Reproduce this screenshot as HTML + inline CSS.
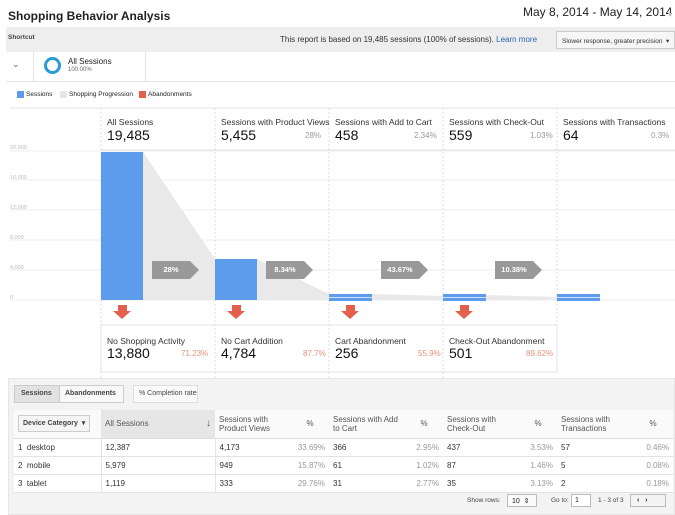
<!DOCTYPE html>
<html><head><style>
*{margin:0;padding:0;box-sizing:border-box}
body{width:675px;height:515px;background:#fff;font-family:"Liberation Sans",sans-serif;color:#222;position:relative;overflow:hidden}
.a{position:absolute;white-space:nowrap}
.s{font-size:8px;color:#333}
.g{color:#999}
.o{color:#e8907a}
.hl{font-size:8.5px;color:#333}
.num{font-size:14px;color:#111}
.tag{position:absolute;width:48px;height:18px}
.tag div{position:absolute;left:0;top:0;width:38px;height:18px;background:#999;color:#fff;font-size:7.5px;font-weight:bold;text-align:center;line-height:18px}
.tag span{position:absolute;left:38px;top:0;border-left:9px solid #999;border-top:9px solid transparent;border-bottom:9px solid transparent}
.ra{position:absolute;width:19px;height:14px}
.ra div{position:absolute;left:5px;top:0;width:9px;height:6px;background:#e3604e}
.ra span{position:absolute;left:0;top:6px;border-top:8px solid #e3604e;border-left:9.5px solid transparent;border-right:9.5px solid transparent}
table{white-space:normal}
td{font-size:8px;color:#333;border-bottom:1px solid #e3e3e3;padding:0 4px;height:18px;white-space:nowrap}
th{font-size:8px;color:#555;font-weight:normal;text-align:left;padding:0 4px;height:28px;border-bottom:1px solid #ddd;white-space:normal;line-height:9px}
</style></head><body>
<div class="a" style="left:8px;top:9px;font-size:12px;font-weight:bold">Shopping Behavior Analysis</div>
<div class="a" style="left:523px;top:5px;font-size:12px;color:#222">May 8, 2014 - May 14, 2014</div>
<div class="a" style="left:668px;top:10px;font-size:8px;color:#bbb">▾</div>
<div class="a" style="left:6px;top:27px;width:669px;height:25px;background:#eeeeee"></div>
<div class="a" style="left:8px;top:34px;font-size:6.5px;font-weight:bold;color:#444">Shortcut</div>
<div class="a" style="left:280px;top:35px;font-size:8px;color:#333">This report is based on 19,485 sessions (100% of sessions). <span style="color:#2a63b3">Learn more</span></div>
<div class="a" style="left:556px;top:31px;width:119px;height:18px;background:#f6f6f6;border:1px solid #ccc;font-size:6.5px;color:#333;padding:5px 0 0 5px">Slower response, greater precision &nbsp;▾</div>
<div class="a" style="left:6px;top:52px;width:669px;height:30px;border-bottom:1px solid #e5e5e5"></div>
<div class="a" style="left:33px;top:52px;width:113px;height:30px;border-left:1px solid #e5e5e5;border-right:1px solid #e5e5e5"></div>
<div class="a" style="left:12px;top:59px;font-size:9px;color:#666">⌄</div>
<div class="a" style="left:44px;top:57px;width:17px;height:17px;border-radius:50%;border:3px solid #2b9ad6"></div>
<div class="a" style="left:68px;top:57px;font-size:8px;color:#222">All Sessions</div>
<div class="a" style="left:68px;top:67px;font-size:6px;color:#666">100.00%</div>
<div class="a" style="left:17px;top:91px;width:7px;height:7px;background:#5d9cec"></div>
<div class="a" style="left:26px;top:91px;font-size:6.5px">Sessions</div>
<div class="a" style="left:60px;top:91px;width:7px;height:7px;background:#e6e6e6"></div>
<div class="a" style="left:69px;top:91px;font-size:6.5px">Shopping Progression</div>
<div class="a" style="left:139px;top:91px;width:7px;height:7px;background:#e3604e"></div>
<div class="a" style="left:148px;top:91px;font-size:6.5px">Abandonments</div>

<svg class="a" style="left:0;top:0" width="675" height="380">
<line x1="10" y1="108" x2="675" y2="108" stroke="#e6e6e6"/>
<g stroke="#ececec"><line x1="10" y1="151" x2="675" y2="151"/><line x1="10" y1="180" x2="675" y2="180"/><line x1="10" y1="210" x2="675" y2="210"/><line x1="10" y1="240" x2="675" y2="240"/><line x1="10" y1="270" x2="675" y2="270"/><line x1="10" y1="300" x2="675" y2="300"/></g>
<g stroke="#ddd" stroke-dasharray="2,2"><line x1="101" y1="108" x2="101" y2="380"/><line x1="215" y1="108" x2="215" y2="380"/><line x1="329" y1="108" x2="329" y2="380"/><line x1="443" y1="108" x2="443" y2="380"/><line x1="557" y1="108" x2="557" y2="325"/></g>
<line x1="101" y1="150" x2="675" y2="150" stroke="#e6e6e6"/>
<polygon points="143,152 215,259 215,300 143,300" fill="#e9e9e9"/>
<polygon points="257,259 329,294 329,300 257,300" fill="#e9e9e9"/>
<polygon points="372,294 443,296 443,300 372,300" fill="#e9e9e9"/>
<polygon points="486,295 557,297 557,300 486,300" fill="#e9e9e9"/>
<rect x="101" y="152" width="42" height="148" fill="#5d9cec"/>
<rect x="215" y="259" width="42" height="41" fill="#5d9cec"/>
<rect x="329" y="294" width="43" height="7" fill="#5d9cec"/>
<rect x="443" y="294" width="43" height="7" fill="#5d9cec"/>
<rect x="557" y="294" width="43" height="7" fill="#5d9cec"/>
<g stroke="#cfe0fa"><line x1="329" y1="297.5" x2="372" y2="297.5"/><line x1="443" y1="297.5" x2="486" y2="297.5"/><line x1="557" y1="297.5" x2="600" y2="297.5"/></g>
<g font-size="5.5" fill="#bbb" font-family="Liberation Sans"><text x="10" y="149">20,000</text><text x="10" y="179">16,000</text><text x="10" y="209">12,000</text><text x="10" y="239">8,000</text><text x="10" y="269">4,000</text><text x="10" y="299">0</text></g>
<rect x="101" y="325" width="456" height="47" fill="none" stroke="#e3e3e3"/>
</svg>

<div class="a hl" style="left:107px;top:117px">All Sessions</div><div class="a num" style="left:107px;top:127px">19,485</div>
<div class="a hl" style="left:221px;top:117px">Sessions with Product Views</div><div class="a num" style="left:221px;top:127px">5,455</div><div class="a s g" style="left:305px;top:131px">28%</div>
<div class="a hl" style="left:335px;top:117px">Sessions with Add to Cart</div><div class="a num" style="left:335px;top:127px">458</div><div class="a s g" style="left:414px;top:131px">2.34%</div>
<div class="a hl" style="left:449px;top:117px">Sessions with Check-Out</div><div class="a num" style="left:449px;top:127px">559</div><div class="a s g" style="left:530px;top:131px">1.03%</div>
<div class="a hl" style="left:563px;top:117px">Sessions with Transactions</div><div class="a num" style="left:563px;top:127px">64</div><div class="a s g" style="left:651px;top:131px">0.3%</div>

<div class="tag" style="left:152px;top:261px"><div>28%</div><span></span></div>
<div class="tag" style="left:266px;top:261px"><div>8.34%</div><span></span></div>
<div class="tag" style="left:381px;top:261px"><div>43.67%</div><span></span></div>
<div class="tag" style="left:495px;top:261px"><div>10.38%</div><span></span></div>
<div class="ra" style="left:113px;top:305px"><div></div><span></span></div>
<div class="ra" style="left:227px;top:305px"><div></div><span></span></div>
<div class="ra" style="left:341px;top:305px"><div></div><span></span></div>
<div class="ra" style="left:455px;top:305px"><div></div><span></span></div>

<div class="a hl" style="left:107px;top:336px">No Shopping Activity</div><div class="a num" style="left:107px;top:345px">13,880</div><div class="a s o" style="left:181px;top:349px">71.23%</div>
<div class="a hl" style="left:221px;top:336px">No Cart Addition</div><div class="a num" style="left:221px;top:345px">4,784</div><div class="a s o" style="left:303px;top:349px">87.7%</div>
<div class="a hl" style="left:335px;top:336px">Cart Abandonment</div><div class="a num" style="left:335px;top:345px">256</div><div class="a s o" style="left:418px;top:349px">55.9%</div>
<div class="a hl" style="left:449px;top:336px">Check-Out Abandonment</div><div class="a num" style="left:449px;top:345px">501</div><div class="a s o" style="left:526px;top:349px">89.62%</div>

<div class="a" style="left:8px;top:378px;width:667px;height:137px;background:#f3f3f3;border:1px solid #e6e6e6"></div>
<div class="a" style="left:14px;top:385px;width:110px;height:18px;border:1px solid #ccc;background:#f8f8f8"></div>
<div class="a" style="left:14px;top:385px;width:46px;height:18px;background:#e2e2e2;border:1px solid #ccc"></div>
<div class="a" style="left:21px;top:390px;font-size:7px;font-weight:bold;color:#444">Sessions</div>
<div class="a" style="left:65px;top:390px;font-size:7px;font-weight:bold;color:#444">Abandonments</div>
<div class="a" style="left:133px;top:385px;width:65px;height:18px;border:1px solid #ddd;background:#fafafa;font-size:7px;color:#444;padding:4px 0 0 5px">% Completion rate</div>
<table class="a" style="left:14px;top:410px;width:659px;border-collapse:collapse;background:#fff;table-layout:fixed;white-space:normal">
<colgroup><col style="width:87px"><col style="width:114px"><col style="width:76px"><col style="width:38px"><col style="width:76px"><col style="width:38px"><col style="width:76px"><col style="width:38px"><col style="width:76px"><col style="width:40px"></colgroup>
<tr style="background:#fafafa"><th><span style="display:inline-block;border:1px solid #ccc;background:#f4f4f4;padding:3px 4px;font-weight:bold;color:#444;font-size:7px;white-space:nowrap">Device Category &nbsp;▾</span></th><th style="background:#e6e6e6">All Sessions<span style="float:right;font-size:10px">↓</span></th><th>Sessions with Product Views</th><th style="text-align:center">%</th><th>Sessions with Add to Cart</th><th style="text-align:center">%</th><th>Sessions with Check-Out</th><th style="text-align:center">%</th><th>Sessions with Transactions</th><th style="text-align:center">%</th></tr>
<tr><td>1 &nbsp;desktop</td><td style="border-left:1px solid #e3e3e3">12,387</td><td style="border-left:1px solid #e3e3e3">4,173</td><td class="g" style="text-align:right">33.69%</td><td>366</td><td class="g" style="text-align:right">2.95%</td><td>437</td><td class="g" style="text-align:right">3.53%</td><td>57</td><td class="g" style="text-align:right">0.46%</td></tr>
<tr><td>2 &nbsp;mobile</td><td style="border-left:1px solid #e3e3e3">5,979</td><td style="border-left:1px solid #e3e3e3">949</td><td class="g" style="text-align:right">15.87%</td><td>61</td><td class="g" style="text-align:right">1.02%</td><td>87</td><td class="g" style="text-align:right">1.46%</td><td>5</td><td class="g" style="text-align:right">0.08%</td></tr>
<tr><td>3 &nbsp;tablet</td><td style="border-left:1px solid #e3e3e3">1,119</td><td style="border-left:1px solid #e3e3e3">333</td><td class="g" style="text-align:right">29.76%</td><td>31</td><td class="g" style="text-align:right">2.77%</td><td>35</td><td class="g" style="text-align:right">3.13%</td><td>2</td><td class="g" style="text-align:right">0.18%</td></tr>
</table>
<div class="a" style="left:467px;top:497px;font-size:6.5px;color:#444">Show rows:</div>
<div class="a" style="left:507px;top:494px;width:30px;height:13px;border:1px solid #bbb;background:#fafafa;font-size:7px;padding:2px 0 0 4px">10 &nbsp;⇕</div>
<div class="a" style="left:551px;top:497px;font-size:6.5px;color:#444">Go to:</div>
<div class="a" style="left:571px;top:494px;width:20px;height:13px;border:1px solid #bbb;background:#fff;font-size:7px;padding:2px 0 0 3px">1</div>
<div class="a" style="left:598px;top:497px;font-size:6.5px;color:#444">1 - 3 of 3</div>
<div class="a" style="left:630px;top:494px;width:36px;height:13px;border:1px solid #bbb;background:#f4f4f4;font-size:7px;font-weight:bold;padding:2px 0 0 6px">‹ &nbsp; ›</div>
</body></html>
